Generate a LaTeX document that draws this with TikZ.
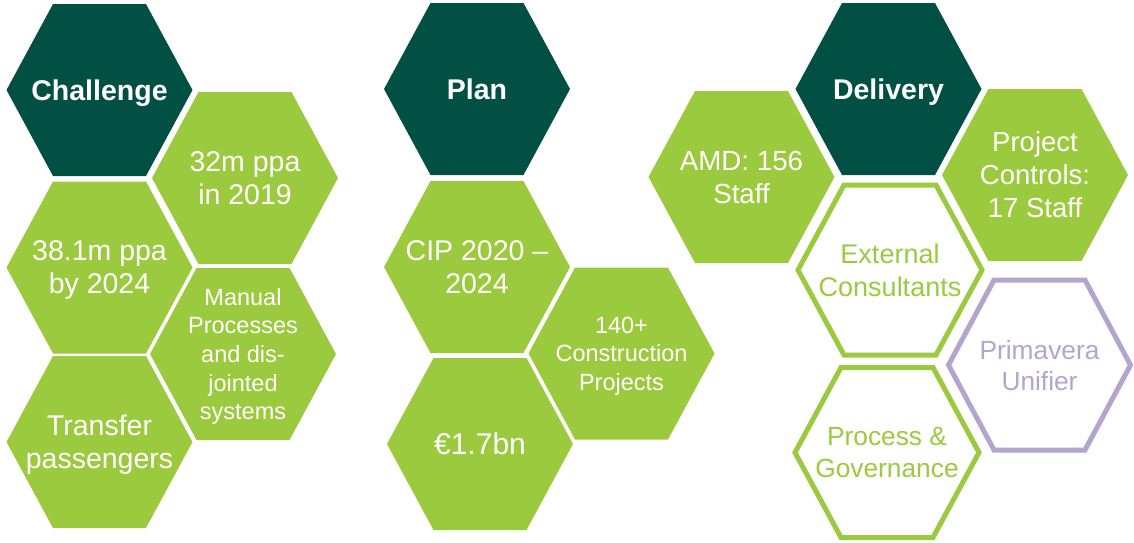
\documentclass[tikz,border=0pt]{standalone}
\usepackage{fontspec}
\setmainfont{Liberation Sans}
\usetikzlibrary{backgrounds}
\definecolor{dkgreen}{HTML}{024F43}
\definecolor{ltgreen}{HTML}{9BCA3E}
\definecolor{lavender}{HTML}{B4A5CE}
\newcommand{\hexaround}[4]{\path[#4] (#1.center) ++(-#2,0) -- ++(#2/2,-#3) -- ++(#2,0) -- ++(#2/2,#3) -- ++(-#2/2,#3) -- ++(-#2,0) -- cycle;}
\begin{document}
\begin{tikzpicture}[x=1pt,y=-1pt,
  lbl/.style={align=center,inner sep=0pt,text depth=0pt,text=white,font=\fontsize{28.5}{33}\selectfont},
  titlelbl/.style={lbl,font=\bfseries\fontsize{28.5}{33}\selectfont},
  smalllbl/.style={lbl,font=\fontsize{23.5}{28.7}\selectfont},
  greenlbl/.style={lbl,text=ltgreen,font=\fontsize{27}{33}\selectfont},
  lavlbl/.style={lbl,text=lavender,font=\fontsize{26.3}{31}\selectfont},
  darkhex/.style={fill=dkgreen},
  greenhex/.style={fill=ltgreen},
  outlinehex/.style={draw=ltgreen,line width=5pt,fill=white},
  lavhex/.style={draw=lavender,line width=5pt,fill=white}]
\useasboundingbox (0,0) rectangle (1134,542);

% Challenge column
\node[titlelbl] (ch) at (99.5,90) {Challenge};
\node[lbl] (c32) at (245,178) {32m ppa\\in 2019};
\node[lbl] (c38) at (99.5,267.5) {38.1m ppa\\by 2024};
\node[smalllbl] (cman) at (243,354) {Manual\\Processes\\and dis-\\jointed\\systems};
\node[lbl] (ctr) at (99.5,442) {Transfer\\passengers};

% Plan column
\node[titlelbl] (pl) at (477,89) {Plan};
\node[lbl] (pcip) at (477,267) {CIP 2020 –\\2024};
\node[smalllbl] (p140) at (621.5,353.5) {140+\\Construction\\Projects};
\node[lbl,font=\fontsize{30}{35}\selectfont] (peur) at (480,444) {€1.7bn};

% Delivery column
\node[titlelbl] (dl) at (888.5,89) {Delivery};
\node[lbl,font=\fontsize{27.7}{33}\selectfont] (damd) at (741.5,177) {AMD: 156\\Staff};
\node[lbl,font=\fontsize{27.5}{33}\selectfont] (dpc) at (1035,175) {Project\\Controls:\\17 Staff};
\node[greenlbl] (dext) at (890,270) {External\\Consultants};
\node[lavlbl] (dpri) at (1039.5,365) {Primavera\\Unifier};
\node[greenlbl,font=\fontsize{26.3}{32}\selectfont] (dproc) at (887,452.5) {Process \&\\Governance};

\begin{scope}[on background layer]
\hexaround{ch}{93}{86}{darkhex}
\hexaround{c32}{93}{86}{greenhex}
\hexaround{c38}{93}{86}{greenhex}
\hexaround{cman}{93}{86}{greenhex}
\hexaround{ctr}{93}{86}{greenhex}
\hexaround{pl}{93}{86}{darkhex}
\hexaround{pcip}{93}{86}{greenhex}
\hexaround{p140}{93}{86}{greenhex}
\hexaround{peur}{93}{86}{greenhex}
\hexaround{dl}{93}{86}{darkhex}
\hexaround{damd}{93}{86}{greenhex}
\hexaround{dpc}{93}{86}{greenhex}
\hexaround{dext}{92}{85}{outlinehex}
\hexaround{dpri}{91}{85}{lavhex}
\hexaround{dproc}{92}{85}{outlinehex}
\end{scope}
\end{tikzpicture}
\end{document}
